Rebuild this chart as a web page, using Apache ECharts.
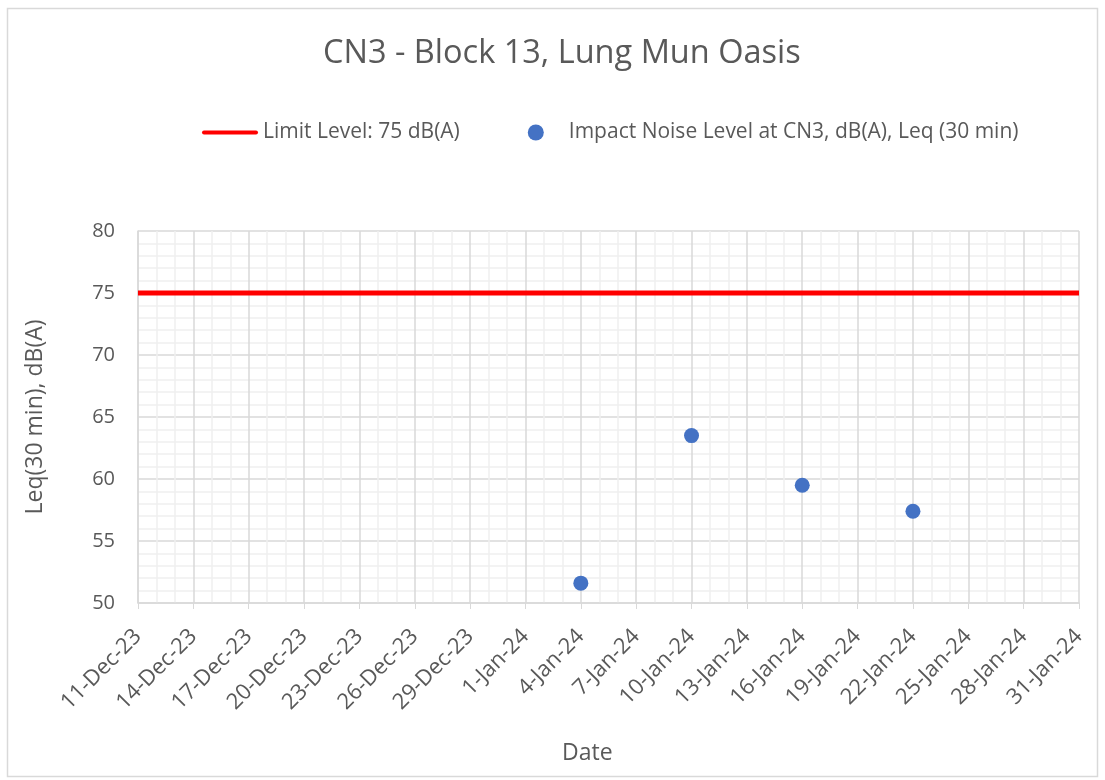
<!DOCTYPE html>
<html>
<head>
<meta charset="utf-8">
<script src="https://cdn.jsdelivr.net/npm/echarts@6/dist/echarts.min.js"></script>
<style>
  html, body { margin: 0; padding: 0; background: #fff; }
  #chart { width: 1105px; height: 780px; }
</style>
</head>
<body>
<div id="chart"></div>
<script>
// Axis range: day offsets from the start date, ticks every 3 days
const startDate = '2023-12-11';
const endDate = '2024-01-31';
const tickLabels = ['11-Dec-23', '14-Dec-23', '17-Dec-23', '20-Dec-23', '23-Dec-23', '26-Dec-23',
  '29-Dec-23', '1-Jan-24', '4-Jan-24', '7-Jan-24', '10-Jan-24', '13-Jan-24', '16-Jan-24',
  '19-Jan-24', '22-Jan-24', '25-Jan-24', '28-Jan-24', '31-Jan-24'];

// Measured impact noise levels
const measureDates = ['2024-01-04', '2024-01-10', '2024-01-16', '2024-01-22'];
const noiseLevels = [51.6, 63.5, 59.5, 57.4];

// Limit level
const limitLevel = 75;

const DAY = 86400000;
const dayOffset = d => Math.round((Date.parse(d) - Date.parse(startDate)) / DAY);
const spanDays = dayOffset(endDate);

const textColor = '#595959';
const fontFamily = '"Open Sans", "Noto Sans", sans-serif';

const chart = echarts.init(document.getElementById('chart'), null, { renderer: 'canvas' });

chart.setOption({
  backgroundColor: '#ffffff',
  animation: false,
  textStyle: { fontFamily: fontFamily, color: textColor },
  title: {
    text: 'CN3 - Block 13, Lung Mun Oasis',
    left: 318,
    top: 32,
    textStyle: { fontSize: 32.5, fontWeight: 'normal', color: textColor, fontFamily: fontFamily }
  },
  legend: {
    top: 117,
    left: 197,
    itemGap: 68,
    itemWidth: 56,
    itemHeight: 16,
    textStyle: { fontSize: 21, color: textColor, fontFamily: fontFamily },
    data: [
      { name: 'Limit Level: 75 dB(A)', icon: 'path://M2,6 L54,6 A2,2 0 0 1 54,10 L2,10 A2,2 0 0 1 2,6 Z' },
      { name: 'Impact Noise Level at CN3, dB(A), Leq (30 min)', icon: 'circle' }
    ]
  },
  graphic: [
    {
      // chart frame
      type: 'rect',
      shape: { x: 7.5, y: 8.5, width: 1090, height: 768 },
      style: { fill: 'none', stroke: '#d9d9d9', lineWidth: 1.5 },
      silent: true
    },
    {
      // horizontal axis title
      type: 'text',
      left: 562,
      top: 742,
      style: { text: 'Date', fontSize: 23, fill: textColor, fontFamily: fontFamily },
      silent: true
    }
  ],
  grid: { left: 138, right: 26, top: 231, bottom: 177 },
  xAxis: {
    type: 'value',
    min: 0,
    max: spanDays,
    interval: 3,
    axisLine: { show: true, lineStyle: { color: '#d9d9d9', width: 1.5 } },
    axisTick: { show: true, length: 6, lineStyle: { color: '#d9d9d9' } },
    axisLabel: {
      rotate: 45,
      fontSize: 22,
      color: textColor,
      margin: 30,
      formatter: v => tickLabels[Math.round(v / 3)] || ''
    },
    splitLine: { show: true, lineStyle: { color: '#d9d9d9', width: 1.5 } },
    minorTick: { show: false, splitNumber: 3 },
    minorSplitLine: { show: true, lineStyle: { color: '#f0f0f0', width: 1.5 } }
  },
  yAxis: {
    type: 'value',
    min: 50,
    max: 80,
    interval: 5,
    name: 'Leq(30 min), dB(A)',
    nameLocation: 'middle',
    nameGap: 91,
    nameTextStyle: { fontSize: 23, color: textColor },
    axisLine: { show: true, lineStyle: { color: '#d9d9d9', width: 1.5 } },
    axisTick: { show: false },
    axisLabel: { fontSize: 20, color: textColor, margin: 23 },
    splitLine: { show: true, lineStyle: { color: '#d9d9d9', width: 1.5 } },
    minorTick: { show: false, splitNumber: 5 },
    minorSplitLine: { show: true, lineStyle: { color: '#f0f0f0', width: 1.5 } }
  },
  series: [
    {
      name: 'Limit Level: 75 dB(A)',
      type: 'line',
      data: [[0, limitLevel], [spanDays, limitLevel]],
      symbol: 'none',
      lineStyle: { color: '#ff0000', width: 5 },
      itemStyle: { color: '#ff0000' },
      z: 3
    },
    {
      name: 'Impact Noise Level at CN3, dB(A), Leq (30 min)',
      type: 'scatter',
      data: measureDates.map((d, i) => [dayOffset(d), noiseLevels[i]]),
      symbol: 'circle',
      symbolSize: 15,
      itemStyle: { color: '#4472c4', opacity: 1 },
      z: 4
    }
  ]
});
</script>
</body>
</html>
